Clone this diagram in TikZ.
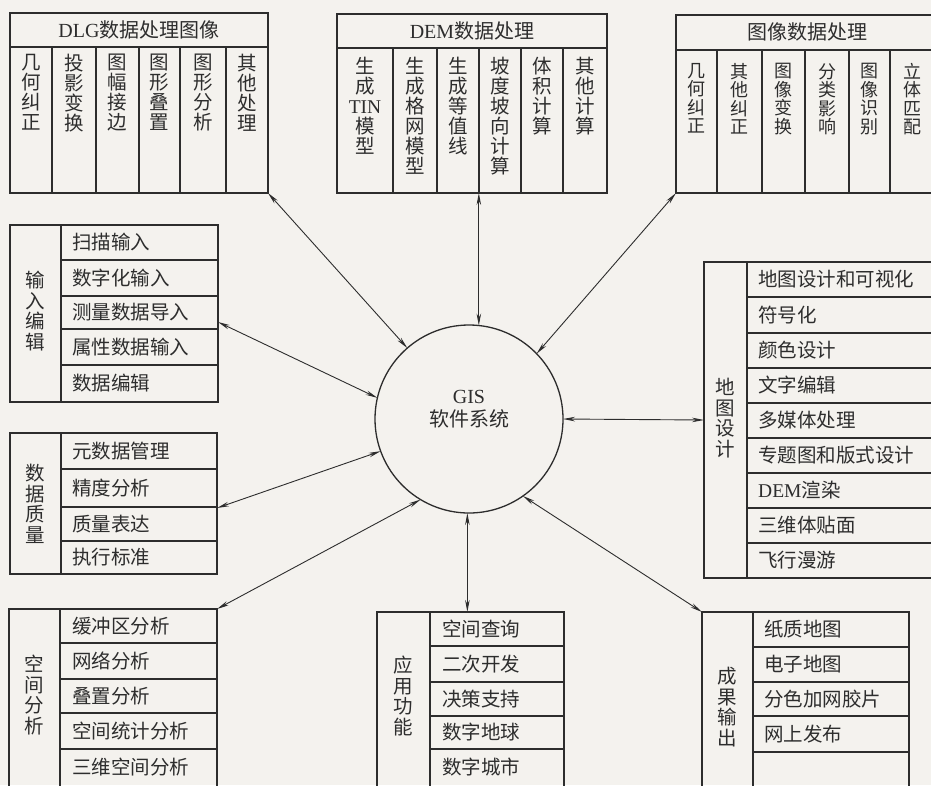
\documentclass[tikz,border=0pt]{standalone}
\usepackage{fontspec}
\setmainfont{Liberation Serif}
\newfontfamily\cjk{Noto Sans CJK SC}
\usetikzlibrary{arrows.meta,calc}
\definecolor{bgc}{RGB}{244,242,238}
\definecolor{ink}{RGB}{45,45,45}
\begin{document}
\begin{tikzpicture}[x=1pt,y=-1pt,
  frame/.style={draw=ink,line width=1.3pt,inner sep=0pt,outer sep=0pt,anchor=north west},
  sep/.style={draw=ink,line width=1.1pt},
  conn/.style={draw=ink,line width=0.9pt,{Stealth[length=12pt,width=4.5pt]}-{Stealth[length=12pt,width=4.5pt]}},
  vtxt/.style={font=\fontsize{19.5}{20}\selectfont\cjk,align=center,anchor=north,inner sep=0pt,text=ink},
  vtxs/.style={font=\fontsize{18}{18.5}\selectfont\cjk,align=center,anchor=north,inner sep=0pt,text=ink},
  ltxt/.style={font=\fontsize{19.5}{20.5}\selectfont\cjk,align=center,anchor=center,inner sep=0pt,text=ink},
  rtxt/.style={font=\fontsize{19.5}{20}\selectfont\cjk,anchor=west,inner sep=0pt,text=ink},
  ttl/.style={font=\fontsize{20}{20}\selectfont,anchor=center,inner sep=0pt,text=ink},
]
\fill[bgc] (0,0) rectangle (931,785);
\useasboundingbox (0,0) rectangle (931,785);

% ---------- DLG ----------
\node[frame,minimum width=258pt,minimum height=180pt] (dlg) at (10,13) {};
\draw[sep] (10,47) -- (268,47);
\foreach \x in {52,96,139,180,226} \draw[sep] (\x,47) -- (\x,193);
\node[ttl] (dlgT) at (139,30) {DLG{\cjk 数据处理图像}};
\node[vtxt] (dlg1) at (31,54) {几\\何\\纠\\正};
\node[vtxt] (dlg2) at (74,54) {投\\影\\变\\换};
\node[vtxt] (dlg3) at (117.5,54) {图\\幅\\接\\边};
\node[vtxt] (dlg4) at (159.5,54) {图\\形\\叠\\置};
\node[vtxt] (dlg5) at (203,54) {图\\形\\分\\析};
\node[vtxt] (dlg6) at (247,54) {其\\他\\处\\理};

% ---------- DEM ----------
\node[frame,minimum width=270pt,minimum height=179pt] (dem) at (337,14) {};
\draw[sep] (337,48) -- (607,48);
\foreach \x in {393,437,479,521,563} \draw[sep] (\x,48) -- (\x,193);
\node[ttl] (demT) at (472,31) {DEM{\cjk 数据处理}};
\node[vtxt] (dem1) at (365,57) {生\\成\\{\rmfamily TIN}\\模\\型};
\node[vtxt] (dem2) at (415,57) {生\\成\\格\\网\\模\\型};
\node[vtxt] (dem3) at (458,57) {生\\成\\等\\值\\线};
\node[vtxt] (dem4) at (500,57) {坡\\度\\坡\\向\\计\\算};
\node[vtxt] (dem5) at (542,57) {体\\积\\计\\算};
\node[vtxt] (dem6) at (585,57) {其\\他\\计\\算};

% ---------- Image ----------
\node[frame,minimum width=262pt,minimum height=178pt] (img) at (676,15) {};
\draw[sep] (676,50) -- (938,50);
\foreach \x in {717,762,805,849,890} \draw[sep] (\x,50) -- (\x,193);
\node[ttl] (imgT) at (807,32) {\cjk 图像数据处理};
\node[vtxs] (img1) at (696.5,63) {几\\何\\纠\\正};
\node[vtxs] (img2) at (739.5,63) {其\\他\\纠\\正};
\node[vtxs] (img3) at (783.5,63) {图\\像\\变\\换};
\node[vtxs] (img4) at (827,63) {分\\类\\影\\响};
\node[vtxs] (img5) at (869.5,63) {图\\像\\识\\别};
\node[vtxs] (img6) at (912,63) {立\\体\\匹\\配};

% ---------- Input editing ----------
\node[frame,minimum width=208pt,minimum height=177pt] (inp) at (10,225) {};
\draw[sep] (61,225) -- (61,402);
\foreach \y in {260,296,329,365} \draw[sep] (61,\y) -- (218,\y);
\node[ltxt] (inpL) at (35.5,311) {输\\入\\编\\辑};
\node[rtxt] (inp1) at (72,242.5) {扫描输入};
\node[rtxt] (inp2) at (72,278) {数字化输入};
\node[rtxt] (inp3) at (72,312.5) {测量数据导入};
\node[rtxt] (inp4) at (72,347) {属性数据输入};
\node[rtxt] (inp5) at (72,383.5) {数据编辑};

% ---------- Data quality ----------
\node[frame,minimum width=207pt,minimum height=141pt] (qua) at (10,433) {};
\draw[sep] (61,433) -- (61,574);
\foreach \y in {469,507,541} \draw[sep] (61,\y) -- (217,\y);
\node[ltxt] (quaL) at (35.5,504) {数\\据\\质\\量};
\node[rtxt] (qua1) at (72,451) {元数据管理};
\node[rtxt] (qua2) at (72,488) {精度分析};
\node[rtxt] (qua3) at (72,524) {质量表达};
\node[rtxt] (qua4) at (72,557.5) {执行标准};

% ---------- Spatial analysis ----------
\node[frame,minimum width=208pt,minimum height=185pt] (spa) at (9,609) {};
\draw[sep] (60,609) -- (60,794);
\foreach \y in {643,679,713,749} \draw[sep] (60,\y) -- (217,\y);
\node[ltxt] (spaL) at (34.5,695) {空\\间\\分\\析};
\node[rtxt] (spa1) at (72,626) {缓冲区分析};
\node[rtxt] (spa2) at (72,661) {网络分析};
\node[rtxt] (spa3) at (72,696) {叠置分析};
\node[rtxt] (spa4) at (72,731) {空间统计分析};
\node[rtxt] (spa5) at (72,767) {三维空间分析};

% ---------- Application ----------
\node[frame,minimum width=187pt,minimum height=182pt] (app) at (377,612) {};
\draw[sep] (430,612) -- (430,794);
\foreach \y in {646,682,716,749} \draw[sep] (430,\y) -- (564,\y);
\node[ltxt] (appL) at (403.5,696) {应\\用\\功\\能};
\node[rtxt] (app1) at (442,629) {空间查询};
\node[rtxt] (app2) at (442,664) {二次开发};
\node[rtxt] (app3) at (442,699) {决策支持};
\node[rtxt] (app4) at (442,732.5) {数字地球};
\node[rtxt] (app5) at (442,767) {数字城市};

% ---------- Output ----------
\node[frame,minimum width=207pt,minimum height=182pt] (out) at (702,612) {};
\draw[sep] (753,612) -- (753,794);
\foreach \y in {647,682,716,752} \draw[sep] (753,\y) -- (909,\y);
\node[ltxt] (outL) at (727.5,707) {成\\果\\输\\出};
\node[rtxt] (out1) at (764,629.5) {纸质地图};
\node[rtxt] (out2) at (764,664.5) {电子地图};
\node[rtxt] (out3) at (764,699) {分色加网胶片};
\node[rtxt] (out4) at (764,734) {网上发布};

% ---------- Map design ----------
\node[frame,minimum width=232pt,minimum height=316pt] (map) at (704,262) {};
\draw[sep] (747,262) -- (747,578);
\foreach \y in {297,333,368,403,438,473,508,543} \draw[sep] (747,\y) -- (936,\y);
\node[ltxt] (mapL) at (725,418) {地\\图\\设\\计};
\node[rtxt] (map1) at (758,279.5) {地图设计和可视化};
\node[rtxt] (map2) at (758,315) {符号化};
\node[rtxt] (map3) at (758,350.5) {颜色设计};
\node[rtxt] (map4) at (758,385.5) {文字编辑};
\node[rtxt] (map5) at (758,420.5) {多媒体处理};
\node[rtxt] (map6) at (758,455.5) {专题图和版式设计};
\node[rtxt] (map7) at (758,490.5) {{\rmfamily DEM}渲染};
\node[rtxt] (map8) at (758,525.5) {三维体贴面};
\node[rtxt] (map9) at (758,560.5) {飞行漫游};

% ---------- Centre ----------
\node[circle,draw=ink,line width=1.3pt,minimum size=188pt,inner sep=0pt,outer sep=0pt] (gis) at (469,419) {};
\node[font=\fontsize{20}{23}\selectfont,align=center,inner sep=0pt,text=ink] (gisT) at (469,409) {GIS\\{\cjk 软件系统}};

% ---------- Connectors ----------
\coordinate (inpA) at (218,322);
\coordinate (quaA) at (217,508);
\draw[conn] (dlg.south east) -- (gis.131);
\draw[conn] (gis.84.5) -- (gis.84.5 |- dem.south);
\draw[conn] (img.south west) -- (gis.44);
\draw[conn] (inpA) -- (gis.167);
\draw[conn] (quaA) -- (gis.200.5);
\draw[conn] (spa.north east) -- (gis.239.4);
\draw[conn] (gis.269) -- (gis.269 |- app.north);
\draw[conn] (gis.305.3) -- (out.north west);
\draw[conn] (gis.east) -- (map.west);
\end{tikzpicture}
\end{document}
